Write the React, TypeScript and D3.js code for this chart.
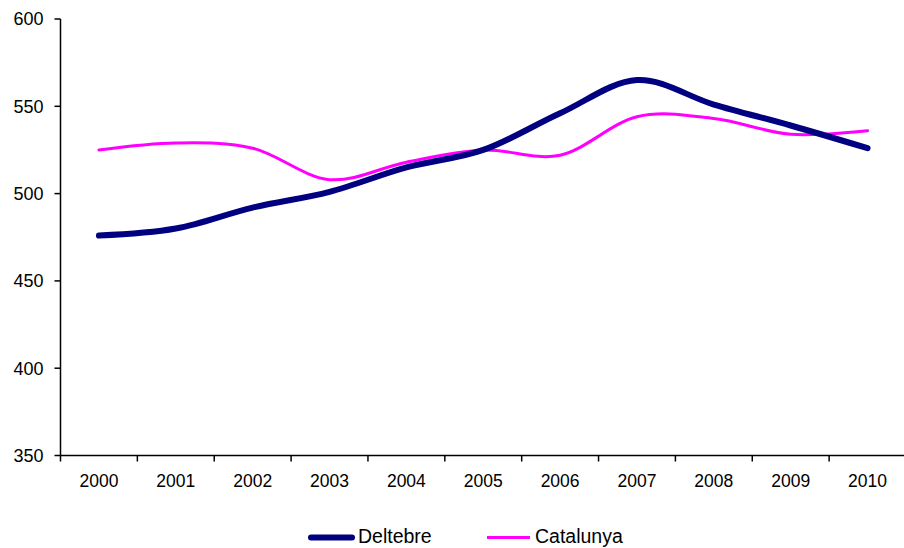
import React from "react";
import * as d3 from "d3";

const years = ["2000","2001","2002","2003","2004","2005","2006","2007","2008","2009","2010"];
const deltebre = [476, 480, 492, 501, 515, 525, 546, 565, 551, 539, 526];
const catalunya = [525, 529, 526, 508, 518, 525, 522, 544, 543, 534, 536];
const yTicks = [350, 400, 450, 500, 550, 600];

export default function App() {
  const W = 904, H = 548;
  const left = 60.5, right = 906, top = 19, bottom = 455.5;
  const x = d3.scaleBand<string>().domain(years).range([left, right]);
  const y = d3.scaleLinear().domain([350, 600]).range([bottom, top]);
  const line = d3.line<number>()
    .x((_, i) => (x(years[i]) as number) + x.bandwidth() / 2)
    .y(d => y(d))
    .curve(d3.curveCatmullRom.alpha(0));
  const font = "Liberation Sans, Arial, sans-serif";
  return (
    <svg width={W} height={H} style={{ position: "absolute", left: 0, top: 0 }} fontFamily={font}>
      <rect width={W} height={H} fill="#fff" />
      <line x1={left} x2={left} y1={top} y2={bottom} stroke="#000" strokeWidth={1.5} />
      <line x1={left} x2={right} y1={bottom} y2={bottom} stroke="#000" strokeWidth={1.5} />
      {yTicks.map(t => (
        <g key={t}>
          <line x1={left - 6} x2={left} y1={y(t)} y2={y(t)} stroke="#000" strokeWidth={1.5} />
          <text x={left - 17} y={y(t)} dy="0.35em" textAnchor="end" fontSize={18} fill="#000">{t}</text>
        </g>
      ))}
      {years.map((yr) => (
        <g key={yr}>
          <line x1={(x(yr) as number)} x2={(x(yr) as number)} y1={bottom} y2={bottom + 6} stroke="#000" strokeWidth={1.5} />
          <text x={(x(yr) as number) + x.bandwidth() / 2} y={487} textAnchor="middle" fontSize={17.5} fill="#000">{yr}</text>
        </g>
      ))}
      <path d={line(catalunya) as string} fill="none" stroke="#FF00FF" strokeWidth={3} strokeLinecap="round" />
      <path d={line(deltebre) as string} fill="none" stroke="#000080" strokeWidth={6} strokeLinecap="round" />
      <g>
        <line x1={311} x2={352} y1={537.5} y2={537.5} stroke="#000080" strokeWidth={6} strokeLinecap="round" />
        <text x={358} y={543} fontSize={19.5} fill="#000">Deltebre</text>
        <line x1={487} x2={530} y1={537.5} y2={537.5} stroke="#FF00FF" strokeWidth={3} />
        <text x={535} y={543} fontSize={19.5} fill="#000">Catalunya</text>
      </g>
    </svg>
  );
}
